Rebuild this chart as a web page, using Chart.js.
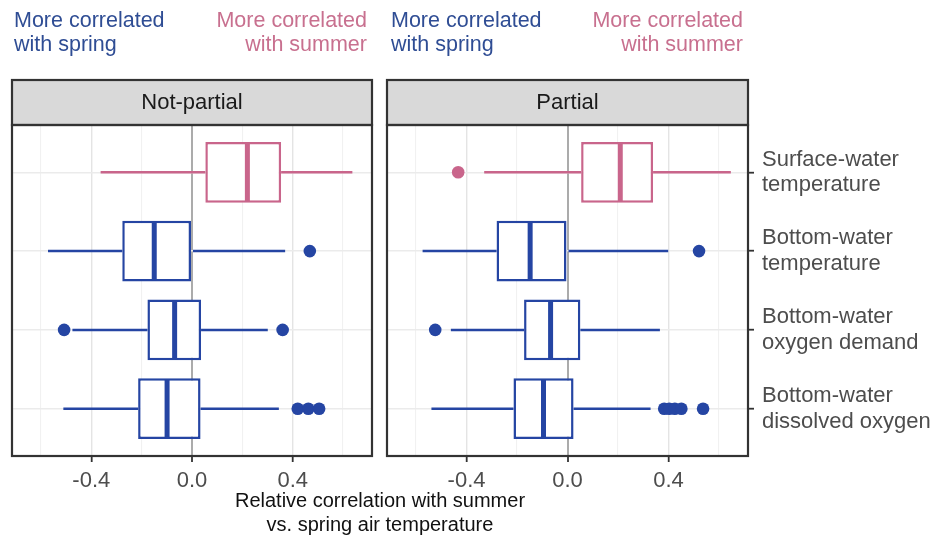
<!DOCTYPE html>
<html>
<head>
<meta charset="utf-8">
<script src="https://cdn.jsdelivr.net/npm/chart.js@4.4.1/dist/chart.umd.min.js"></script>
<style>
  body { margin: 0; background: #fff; font-family: "Liberation Sans", Arial, sans-serif; }
  #wrap { position: relative; width: 944px; height: 546px; overflow: hidden; }
  canvas { position: absolute; top: 0; }
  .note { position: absolute; top: 8px; font-size: 21.5px; line-height: 24px; white-space: nowrap; }
  .spring { color: #2f4d94; text-align: left; }
  .summer { color: #c8708f; text-align: right; }
  #xtitle { position: absolute; left: 12px; width: 736px; top: 488px; text-align: center;
            font-size: 20px; line-height: 24px; color: #111; }
</style>
</head>
<body>
<div id="wrap">
  <canvas id="notPartial" width="380" height="546" style="left:0;width:380px;height:546px"></canvas>
  <canvas id="partial" width="566" height="546" style="left:378px;width:566px;height:546px"></canvas>
  <div class="note spring" style="left:14px">More correlated<br>with spring</div>
  <div class="note summer" style="right:577px">More correlated<br>with summer</div>
  <div class="note spring" style="left:391px">More correlated<br>with spring</div>
  <div class="note summer" style="right:201px">More correlated<br>with summer</div>
  <div id="xtitle">Relative correlation with summer<br>vs. spring air temperature</div>
</div>
<script>
// response variables, top to bottom
const categories = [
  ['Surface-water', 'temperature'],
  ['Bottom-water', 'temperature'],
  ['Bottom-water', 'oxygen demand'],
  ['Bottom-water', 'dissolved oxygen']
];

// box statistics, not-partial correlations
const notPartialLow = [-0.363, -0.572, -0.475, -0.511];
const notPartialQ1 = [0.053, -0.277, -0.177, -0.214];
const notPartialMedian = [0.220, -0.150, -0.069, -0.099];
const notPartialQ3 = [0.354, 0.000, 0.036, 0.034];
const notPartialHigh = [0.637, 0.370, 0.301, 0.345];
const notPartialOutliers = [[], [0.468], [-0.508, 0.360], [0.420, 0.462, 0.505]];

// box statistics, partial correlations
const partialLow = [-0.330, -0.574, -0.462, -0.539];
const partialQ1 = [0.054, -0.281, -0.172, -0.214];
const partialMedian = [0.209, -0.148, -0.067, -0.095];
const partialQ3 = [0.339, 0.000, 0.051, 0.024];
const partialHigh = [0.647, 0.399, 0.366, 0.329];
const partialOutliers = [[-0.433], [0.521], [-0.524], [0.383, 0.403, 0.425, 0.451, 0.537]];

const xTicks = [-0.6, -0.4, -0.2, 0, 0.2, 0.4, 0.6];
const xLabelled = [-0.4, 0, 0.4];

const BLUE = '#2545a3';
const PINK = '#c9658b';
const FONT = '"Liberation Sans", Arial, sans-serif';

// surface water leans to summer, the rest to spring
const colorFor = i => (i === 0 ? PINK : BLUE);

const isLabelled = v => xLabelled.some(t => Math.abs(t - v) < 1e-9);

// grey strip with the facet name plus the dark panel frame
const facetFrame = {
  id: 'facetFrame',
  afterDraw(chart, args, opts) {
    const { ctx, chartArea: a } = chart;
    ctx.save();
    ctx.fillStyle = '#d9d9d9';
    ctx.fillRect(a.left, a.top - 45, a.right - a.left, 45);
    ctx.strokeStyle = '#333333';
    ctx.lineWidth = 2.2;
    ctx.strokeRect(a.left, a.top - 45, a.right - a.left, 45);
    ctx.strokeRect(a.left, a.top, a.right - a.left, a.bottom - a.top);
    ctx.fillStyle = '#1a1a1a';
    ctx.font = '22px ' + FONT;
    ctx.textAlign = 'center';
    ctx.textBaseline = 'middle';
    ctx.fillText(opts.text, (a.left + a.right) / 2, a.top - 22);
    ctx.restore();
  }
};

function makePanel(id, title, low, q1, med, q3, high, outliers, showLabels, padLeft, padRight) {
  const pos = categories.map((c, i) => i + 1);
  const colors = categories.map((c, i) => colorFor(i));
  const outlierPoints = [];
  const outlierColors = [];
  outliers.forEach((list, i) => list.forEach(v => {
    outlierPoints.push({ x: v, y: pos[i] });
    outlierColors.push(colorFor(i));
  }));

  return new Chart(document.getElementById(id), {
    type: 'bar',
    data: {
      datasets: [
        {
          label: 'lower whisker',
          data: pos.map((p, i) => ({ x: [low[i], q1[i]], y: p })),
          backgroundColor: colors,
          grouped: false, maxBarThickness: 2.5, borderWidth: 0, order: 4
        },
        {
          label: 'upper whisker',
          data: pos.map((p, i) => ({ x: [q3[i], high[i]], y: p })),
          backgroundColor: colors,
          grouped: false, maxBarThickness: 2.5, borderWidth: 0, order: 4
        },
        {
          label: 'box',
          data: pos.map((p, i) => ({ x: [q1[i], q3[i]], y: p })),
          backgroundColor: '#ffffff',
          borderColor: colors,
          borderWidth: 2.5,
          borderSkipped: false,
          grouped: false, categoryPercentage: 1, barPercentage: 0.77, order: 3
        },
        {
          type: 'scatter',
          label: 'median',
          data: pos.map((p, i) => ({ x: med[i], y: p })),
          pointStyle: 'line',
          pointRotation: 90,
          pointRadius: 29.5,
          pointBorderWidth: 5,
          pointBorderColor: colors,
          pointBackgroundColor: colors,
          order: 2
        },
        {
          type: 'scatter',
          label: 'outliers',
          data: outlierPoints,
          pointRadius: 6.3,
          pointBorderWidth: 0,
          pointBackgroundColor: outlierColors,
          order: 1
        }
      ]
    },
    options: {
      indexAxis: 'y',
      responsive: false,
      animation: false,
      events: [],
      layout: { autoPadding: false, padding: { left: padLeft, right: padRight, top: 125, bottom: 50 } },
      plugins: {
        legend: { display: false },
        tooltip: { enabled: false },
        facetFrame: { text: title }
      },
      scales: {
        x: {
          type: 'linear',
          min: -0.715,
          max: 0.715,
          afterBuildTicks: s => { s.ticks = xTicks.map(v => ({ value: v })); },
          afterFit: s => { s.height = 40; },
          border: { display: false },
          grid: {
            color: c => (c.tick.value === 0 ? '#ababab' : isLabelled(c.tick.value) ? '#e4e4e4' : '#f1f1f1'),
            lineWidth: c => (c.tick.value === 0 ? 2 : isLabelled(c.tick.value) ? 1.4 : 1.1),
            tickColor: c => (isLabelled(c.tick.value) ? '#333333' : 'rgba(0,0,0,0)'),
            tickLength: 6,
            tickWidth: 1.8
          },
          ticks: {
            autoSkip: false,
            maxRotation: 0,
            padding: 6,
            color: '#4d4d4d',
            font: { family: FONT, size: 22 },
            callback: v => (isLabelled(v) ? (Math.round(v * 10) / 10).toFixed(1) : '')
          }
        },
        y: {
          type: 'linear',
          position: showLabels ? 'right' : 'left',
          min: 0.4,
          max: 4.6,
          reverse: true,
          offset: false,
          afterBuildTicks: s => { s.ticks = pos.map(v => ({ value: v })); },
          afterFit: s => { s.width = showLabels ? 196 : 0; },
          border: { display: false },
          grid: {
            offset: false,
            color: '#ebebeb',
            lineWidth: 1.4,
            drawTicks: showLabels,
            tickColor: '#333333',
            tickLength: 6,
            tickWidth: 1.8
          },
          ticks: {
            display: showLabels,
            padding: 8,
            color: '#4d4d4d',
            font: { family: FONT, size: 22, lineHeight: 1.16 },
            callback: v => categories[v - 1]
          }
        }
      }
    },
    plugins: [facetFrame]
  });
}

makePanel('notPartial', 'Not-partial', notPartialLow, notPartialQ1, notPartialMedian,
  notPartialQ3, notPartialHigh, notPartialOutliers, false, 12, 8);
makePanel('partial', 'Partial', partialLow, partialQ1, partialMedian,
  partialQ3, partialHigh, partialOutliers, true, 9, 0);
</script>
</body>
</html>
